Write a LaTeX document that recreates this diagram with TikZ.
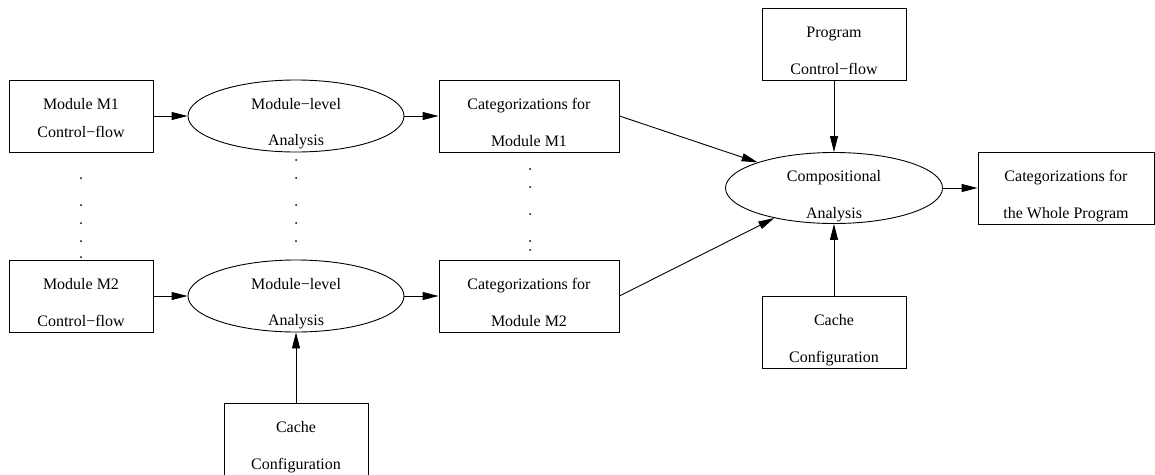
\documentclass[tikz,border=0pt]{standalone}
\usepackage{fontspec}
\setmainfont{Liberation Serif}
\usetikzlibrary{shapes.geometric,arrows.meta}

% Two centred text lines: the first baseline sits 7pt above the node
% centre, the second one #1 pt lower.
\newcommand\twolines[3][37]{%
  \makebox[0pt]{\raisebox{7pt}[0pt][0pt]{#2}}%
  \makebox[0pt]{\raisebox{\dimexpr7pt-#1pt\relax}[0pt][0pt]{#3}}}

\begin{document}
\begin{tikzpicture}[x=1pt,y=-1pt,
  every node/.style={font=\fontsize{16pt}{19pt}\selectfont, inner sep=0pt},
  stage/.style={draw, rectangle, line width=0.9pt, minimum height=72pt},
  proc/.style={draw, ellipse, line width=0.9pt, minimum height=72pt},
  flow/.style={line width=0.9pt, -{Triangle[length=16pt,width=8pt]}},
  gap/.style={radius=1pt}]
\useasboundingbox (0,0) rectangle (1155,474);

% module-level part
\node[stage, minimum width=144pt] (m1) at (81,116) {\twolines[28]{Module M1}{Control−flow}};
\node[proc, minimum width=216pt] (a1) at (296,116) {\twolines[36]{Module−level}{Analysis}};
\node[stage, minimum width=180pt] (c1) at (529,116) {\twolines{Categorizations for}{Module M1}};

\node[stage, minimum width=144pt] (m2) at (81,296) {\twolines{Module M2}{Control−flow}};
\node[proc, minimum width=216pt] (a2) at (296,296) {\twolines[36]{Module−level}{Analysis}};
\node[stage, minimum width=180pt] (c2) at (529,296) {\twolines{Categorizations for}{Module M2}};

\node[stage, minimum width=144pt] (cfg1) at (296,439) {\twolines{Cache}{Configuration}};

% compositional part
\node[stage, minimum width=144pt] (prog) at (834,44) {\twolines{Program}{Control−flow}};
\node[proc, minimum width=217pt, minimum height=71pt] (comp) at (834,188) {\twolines{Compositional}{Analysis}};
\node[stage, minimum width=176pt] (whole) at (1066,188) {\twolines{Categorizations for}{the Whole Program}};
\node[stage, minimum width=144pt] (cfg2) at (834,332) {\twolines{Cache}{Configuration}};

% connectors
\draw[flow] (m1) -- (a1);
\draw[flow] (a1) -- (c1);
\draw[flow] (m2) -- (a2);
\draw[flow] (a2) -- (c2);
\draw[flow] (cfg1) -- (a2);
\draw[flow] (c1.east) -- (comp);
\draw[flow] (c2.east) -- (comp);
\draw[flow] (prog) -- (comp);
\draw[flow] (cfg2) -- (comp);
\draw[flow] (comp) -- (whole);

% elision dots between the two modules
\foreach \y in {178,205,223,241,257} \fill (81,\y) circle[gap];
\foreach \y in {160,178,205,223,241} \fill (296,\y) circle[gap];
\foreach \y in {169,187,214,241,250} \fill (530,\y) circle[gap];
\end{tikzpicture}
\end{document}
